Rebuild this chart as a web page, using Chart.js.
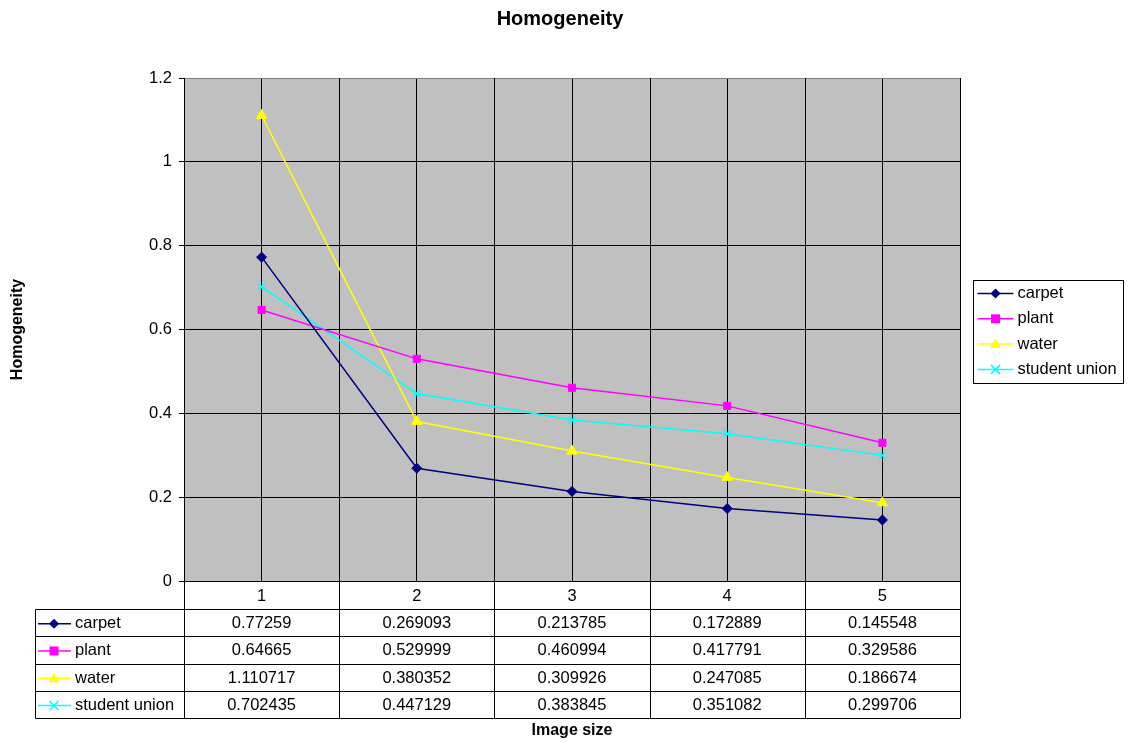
<!DOCTYPE html>
<html>
<head>
<meta charset="utf-8">
<script src="https://cdn.jsdelivr.net/npm/chart.js@4/dist/chart.umd.min.js"></script>
<style>
  body { margin: 0; background: #fff; }
  #wrap { width: 1131px; height: 742px; }
</style>
</head>
<body>
<div id="wrap"><canvas id="chart" width="1131" height="742"></canvas></div>
<script>
const sizes = ['1', '2', '3', '4', '5']
const carpet = [0.77259, 0.269093, 0.213785, 0.172889, 0.145548]
const plant = [0.64665, 0.529999, 0.460994, 0.417791, 0.329586]
const water = [1.110717, 0.380352, 0.309926, 0.247085, 0.186674]
const studentUnion = [0.702435, 0.447129, 0.383845, 0.351082, 0.299706]
const tableText = {
    carpet: ['0.77259', '0.269093', '0.213785', '0.172889', '0.145548'],
    plant: ['0.64665', '0.529999', '0.460994', '0.417791', '0.329586'],
    water: ['1.110717', '0.380352', '0.309926', '0.247085', '0.186674'],
    'student union': ['0.702435', '0.447129', '0.383845', '0.351082', '0.299706']
}

Chart.defaults.font.family = '"Liberation Sans", Arial, sans-serif'
Chart.defaults.color = '#000'

const FAMILY = '"Liberation Sans", Arial, sans-serif'
const FONT = '16.5px ' + FAMILY

function marker(c, style, color, x, y) {
    c.save()
    c.fillStyle = color
    c.strokeStyle = color
    c.lineWidth = 1.5
    c.beginPath()
    if (style === 'rectRot') {
        c.moveTo(x, y - 5); c.lineTo(x + 5, y); c.lineTo(x, y + 5); c.lineTo(x - 5, y); c.closePath(); c.fill()
    } else if (style === 'rect') {
        c.fillRect(x - 4.5, y - 4.5, 9, 9)
    } else if (style === 'triangle') {
        c.moveTo(x, y - 5.5); c.lineTo(x + 5.5, y + 4); c.lineTo(x - 5.5, y + 4); c.closePath(); c.fill()
    } else {
        c.moveTo(x - 4.5, y - 4.5); c.lineTo(x + 4.5, y + 4.5)
        c.moveTo(x + 4.5, y - 4.5); c.lineTo(x - 4.5, y + 4.5); c.stroke()
    }
    c.restore()
}

const excelLook = {
    id: 'excelLook',
    beforeDraw(chart) {
        const { ctx: c, chartArea: a } = chart
        c.save()
        c.fillStyle = '#c0c0c0'
        c.fillRect(a.left, a.top, a.right - a.left, a.bottom - a.top)
        c.restore()
    },
    beforeDatasetsDraw(chart) {
        const { ctx: c, chartArea: a, scales } = chart
        const x = scales.x
        const step = x.getPixelForValue(1) - x.getPixelForValue(0)
        const tableBottom = a.bottom + 137
        c.save()
        c.strokeStyle = '#000'
        c.lineWidth = 1
        // column boundaries run through plot and table
        for (let i = 0; i <= sizes.length; i++) {
            const px = Math.round(x.getPixelForValue(0) - step / 2 + i * step) + 0.5
            c.beginPath()
            c.moveTo(px, a.top)
            c.lineTo(px, tableBottom)
            c.stroke()
        }
        c.restore()
    },
    afterDraw(chart) {
        const { ctx: c, chartArea: a, scales } = chart
        const x = scales.x
        const ds = chart.data.datasets
        const rowH = 27.3
        const headerBottom = a.bottom + 28
        const tableLeft = 35.5
        c.save()
        c.strokeStyle = '#000'
        c.lineWidth = 1
        // table horizontal lines
        for (let r = 0; r <= ds.length; r++) {
            const py = Math.round(headerBottom + r * rowH) + 0.5
            c.beginPath()
            c.moveTo(tableLeft, py)
            c.lineTo(Math.round(a.right) + 0.5, py)
            c.stroke()
        }
        c.beginPath()
        c.moveTo(tableLeft, Math.round(headerBottom) + 0.5)
        c.lineTo(tableLeft, Math.round(headerBottom + ds.length * rowH) + 0.5)
        c.stroke()

        c.font = FONT
        c.fillStyle = '#000'
        c.textBaseline = 'middle'
        c.textAlign = 'center'
        sizes.forEach((s, i) => {
            c.fillText(s, x.getPixelForValue(i), a.bottom + 15)
        })
        ds.forEach((d, r) => {
            const cy = headerBottom + r * rowH + rowH / 2 + 1
            c.strokeStyle = d.borderColor
            c.lineWidth = 1.5
            c.beginPath()
            c.moveTo(38, cy)
            c.lineTo(71, cy)
            c.stroke()
            marker(c, d.pointStyle, d.borderColor, 54, cy)
            c.fillStyle = '#000'
            c.textAlign = 'left'
            c.fillText(d.label, 75, cy)
            c.textAlign = 'center'
            tableText[d.label].forEach((t, i) => {
                c.fillText(t, x.getPixelForValue(i), cy)
            })
        })

        // legend
        const lx = 973.5, ly = 280.5, lw = 150, lh = 103
        c.fillStyle = '#fff'
        c.fillRect(lx, ly, lw, lh)
        c.strokeStyle = '#000'
        c.lineWidth = 1
        c.strokeRect(lx, ly, lw, lh)
        ds.forEach((d, r) => {
            const cy = ly + 13 + r * 25.3
            c.strokeStyle = d.borderColor
            c.lineWidth = 1.5
            c.beginPath()
            c.moveTo(lx + 4, cy)
            c.lineTo(lx + 40, cy)
            c.stroke()
            marker(c, d.pointStyle, d.borderColor, lx + 22, cy)
            c.fillStyle = '#000'
            c.textAlign = 'left'
            c.fillText(d.label, lx + 44, cy)
        })

        // titles
        c.fillStyle = '#000'
        c.font = 'bold 20px ' + FAMILY
        c.textAlign = 'center'
        c.fillText('Homogeneity', 560, 19)
        c.font = 'bold 16px ' + FAMILY
        c.fillText('Image size', (a.left + a.right) / 2, 731)
        c.translate(18, (a.top + a.bottom) / 2)
        c.rotate(-Math.PI / 2)
        c.fillText('Homogeneity', 0, 0)
        c.restore()
    }
}

const ctx = document.getElementById('chart')
new Chart(ctx, {
    type: 'line',
    data: {
        labels: sizes,
        datasets: [
            { label: 'carpet', data: carpet, borderColor: '#000080', backgroundColor: '#000080', pointStyle: 'rectRot', pointRadius: 5 },
            { label: 'plant', data: plant, borderColor: '#ff00ff', backgroundColor: '#ff00ff', pointStyle: 'rect', pointRadius: 5 },
            { label: 'water', data: water, borderColor: '#ffff00', backgroundColor: '#ffff00', pointStyle: 'triangle', pointRadius: 6 },
            { label: 'student union', data: studentUnion, borderColor: '#00ffff', backgroundColor: '#00ffff', pointStyle: 'crossRot', pointRadius: 5, pointBorderWidth: 1.5 }
        ]
    },
    options: {
        responsive: false,
        animation: false,
        devicePixelRatio: 1,
        layout: { padding: { top: 78, right: 171, left: 0, bottom: 0 } },
        elements: { line: { borderWidth: 1.5, tension: 0 }, point: { borderWidth: 1, hoverRadius: 5 } },
        plugins: { legend: { display: false }, title: { display: false }, tooltip: { enabled: false } },
        scales: {
            x: {
                offset: true,
                ticks: { display: false },
                grid: { color: '#000', lineWidth: 1, tickLength: 0, drawTicks: false },
                border: { color: '#000' },
                afterFit(scale) { scale.height = 161 }
            },
            y: {
                min: 0,
                max: 1.2,
                ticks: {
                    stepSize: 0.2, padding: 7, font: { size: 16.5 }, color: '#000',
                    callback: v => String(+v.toFixed(1))
                },
                grid: {
                    color: c => (c.tick && Math.abs(c.tick.value - 1.2) < 1e-9) ? '#808080' : '#000',
                    lineWidth: 1,
                    tickLength: 5,
                    tickColor: '#000'
                },
                border: { color: '#000' },
                afterFit(scale) { scale.width = 184 }
            }
        }
    },
    plugins: [excelLook]
})
</script>
</body>
</html>
